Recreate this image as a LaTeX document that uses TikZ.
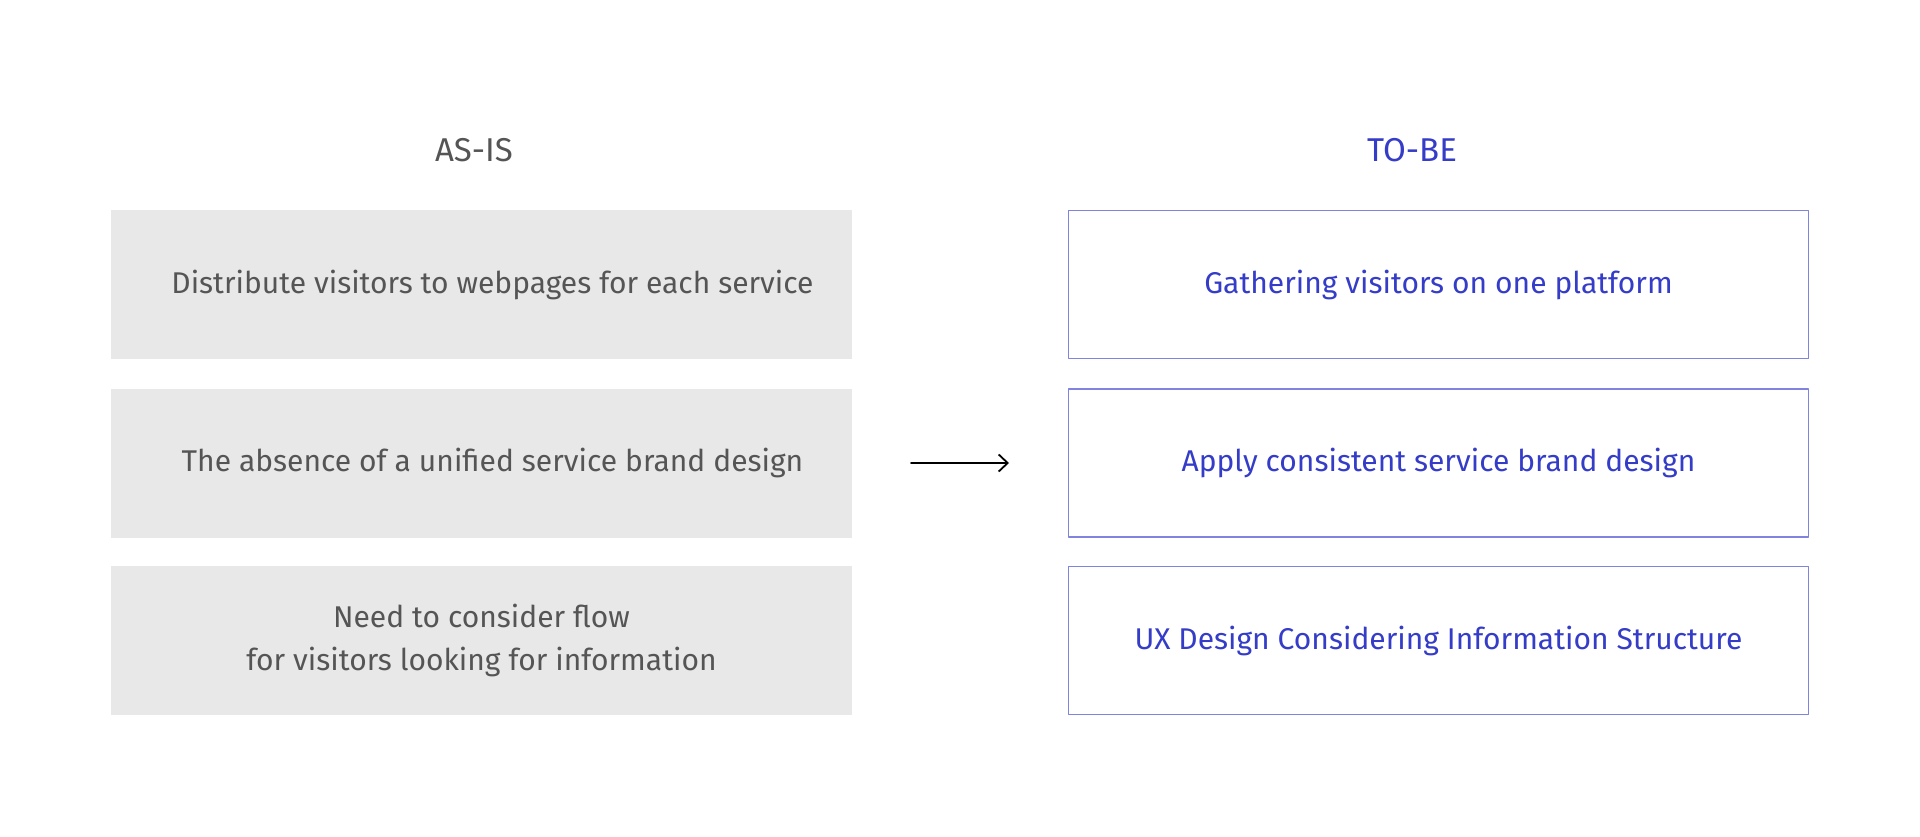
\documentclass[tikz,border=0pt]{standalone}
\usepackage{fontspec}
\setmainfont{Fira Sans}
\usetikzlibrary{arrows.meta}
\definecolor{asgray}{RGB}{232,232,232}
\definecolor{astext}{RGB}{85,85,85}
\definecolor{tobetext}{RGB}{52,60,200}
\definecolor{tobeline}{RGB}{128,132,222}
\begin{document}
\begin{tikzpicture}[x=1pt, y=-1pt, line join=round, line cap=round, >={Straight Barb[length=9pt, width=17pt]},
		font=\fontsize{30}{43}\selectfont,
		asis/.style={fill=asgray, text=astext, minimum width=741pt, minimum height=149pt, inner sep=0pt, align=center},
		tobe/.style={draw=tobeline, line width=1.2pt, text=tobetext, minimum width=740pt, minimum height=148pt, inner sep=0pt, align=center},
		head/.style={font=\fontsize{33}{40}\selectfont, inner sep=0pt}]
			\useasboundingbox[fill=white] (0,0) rectangle (1920,837);
			% headings
			\node[head, text=astext] (asishead) at (474,150) {AS-IS};
			\node[head, text=tobetext] (tobehead) at (1412,150) {TO-BE};
			% left column
			\node[asis] (asisA) at (481.5,284.5) {\hspace*{22pt}Distribute visitors to webpages for each service};
			\node[asis] (asisB) at (481.5,463) {\hspace*{22pt}The absence of a unified service brand design};
			\node[asis] (asisC) at (481.5,640.5) {Need to consider flow\\for visitors looking for information};
			% right column
			\node[tobe] (tobeA) at (1438.5,284.5) {Gathering visitors on one platform};
			\node[tobe] (tobeB) at (1438.5,463) {Apply consistent service brand design};
			\node[tobe] (tobeC) at (1438.5,640.5) {UX Design Considering Information Structure};
			% arrow
			\coordinate (arrS) at (911,463);
			\coordinate (arrE) at (1009,463);
			\draw[->, line width=1.8pt] (arrS)--(arrE);
		\end{tikzpicture}
\end{document}
